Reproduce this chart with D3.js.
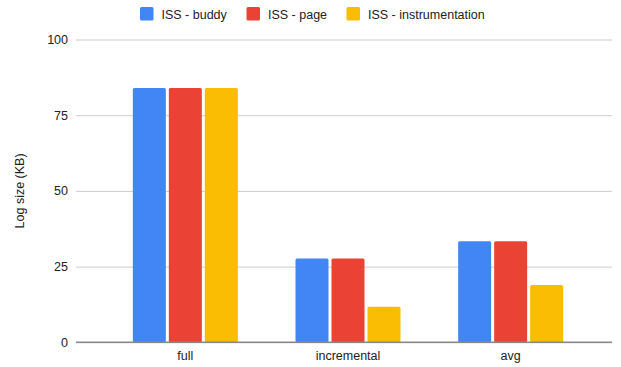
<!DOCTYPE html>
<html><head><meta charset="utf-8">
<script src="https://cdn.jsdelivr.net/npm/d3@7"></script>
<style>body{margin:0;background:#fff}svg{display:block}</style>
</head><body><svg id="c" width="621" height="367"></svg>
<script>
const categories = ["full", "incremental", "avg"];
const seriesNames = ["ISS - buddy", "ISS - page", "ISS - instrumentation"];
const buddy = [84, 27.7, 33.4];
const page = [84, 27.7, 33.4];
const instrumentation = [84, 11.7, 18.9];
const yTicks = [0, 25, 50, 75, 100];
const colors = ["#4285F4", "#EA4335", "#FBBC04"];
const yTitle = "Log size (KB)";

const series = [buddy, page, instrumentation];
const svg = d3.select("#c");
const font = "Arial, 'Liberation Sans', sans-serif";
const gridL = 76, gridR = 612;
const y = d3.scaleLinear().domain([0, 100]).range([342.3, 39.5]);
const x = d3.scaleBand().domain(categories).range([104, 592]).paddingInner(0).paddingOuter(0);
const bw = 33, gap = 3;

// gridlines
const yAxis = d3.axisLeft(y).tickValues(yTicks).tickSize(-(gridR - gridL)).tickPadding(8);
const ga = svg.append("g").attr("transform", `translate(${gridL},0)`).call(yAxis);
ga.select(".domain").remove();
ga.selectAll(".tick line").attr("stroke", "#cccccc").attr("stroke-width", 1);
ga.selectAll(".tick text").attr("fill", "#222").style("font-family", font).style("font-size", "12.5px");

// bars
series.forEach((vals, si) => {
  svg.append("g").selectAll("rect").data(vals).join("rect")
    .attr("x", (d, i) => x(categories[i]) + x.bandwidth() / 2 - (3 * bw + 2 * gap) / 2 + si * (bw + gap))
    .attr("y", d => y(d))
    .attr("width", bw)
    .attr("height", d => y(0) - y(d))
    .attr("rx", 1.5)
    .attr("fill", colors[si]);
});

// baseline
svg.append("line").attr("x1", gridL).attr("x2", gridR).attr("y1", y(0)).attr("y2", y(0))
  .attr("stroke", "#888").attr("stroke-width", 1.5);

// x labels
const xAxis = d3.axisBottom(x).tickSize(0).tickPadding(9);
const gx = svg.append("g").attr("transform", `translate(0,${y(0)})`).call(xAxis);
gx.select(".domain").remove();
gx.selectAll(".tick text").attr("fill", "#222").style("font-family", font).style("font-size", "12.5px");

// y title
svg.append("text").attr("transform", `translate(24,${(y(0) + y(100)) / 2}) rotate(-90)`)
  .attr("text-anchor", "middle").attr("fill", "#222").style("font-family", font).style("font-size", "12.5px")
  .text(yTitle);

// legend
const legX = [140, 246.5, 346.5];
const lg = svg.append("g");
seriesNames.forEach((n, i) => {
  lg.append("rect").attr("x", legX[i]).attr("y", 7).attr("width", 13.5).attr("height", 13.5).attr("rx", 1.5).attr("fill", colors[i]);
  lg.append("text").attr("x", legX[i] + 21.5).attr("y", 18.5).attr("fill", "#222")
    .style("font-family", font).style("font-size", "12.5px").text(n);
});
</script></body></html>
